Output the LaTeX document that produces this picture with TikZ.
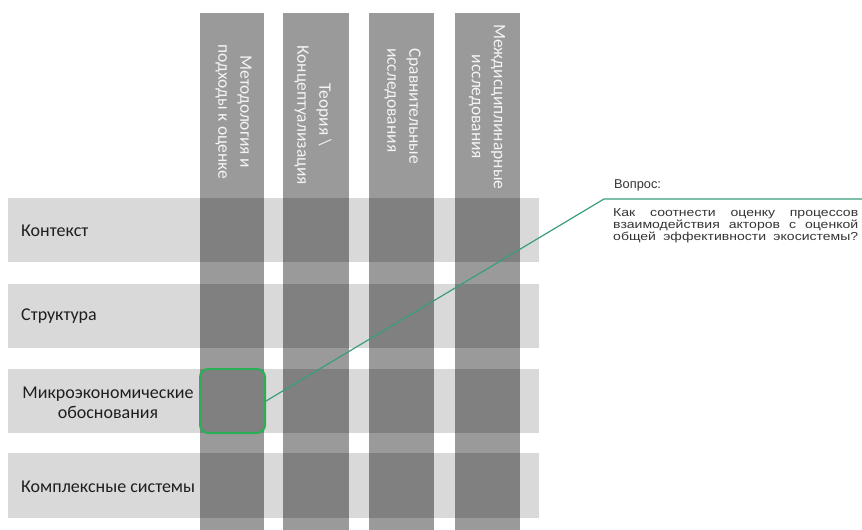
\documentclass[tikz,border=0pt]{standalone}
\usepackage{fontspec}
\setmainfont{Carlito}
\newfontfamily\qfont{Liberation Sans}
\newfontfamily\qwide[FakeStretch=1.22]{Liberation Sans}
\definecolor{rowgray}{HTML}{D9D9D9}
\definecolor{colgray}{HTML}{9A9A9A}
\definecolor{cellgray}{HTML}{808080}
\definecolor{lineg}{HTML}{3A9E7C}
\definecolor{boxg}{HTML}{2BAE55}
\definecolor{hdrtext}{HTML}{F4F4F4}
\definecolor{labtext}{HTML}{1E1E1E}
\begin{document}
\begin{tikzpicture}[x=1pt,y=-1pt,
  rowbar/.style={fill=rowgray,draw=none},
  colbar/.style={fill=colgray,draw=none},
  cellbar/.style={fill=cellgray,draw=none},
  hdr/.style={rotate=-90,align=center,inner sep=0pt,text=hdrtext,font=\fontsize{17.5}{22}\selectfont},
  rowlab/.style={inner sep=0pt,text=labtext,font=\fontsize{18}{20}\selectfont},
  qtitlestyle/.style={inner sep=0pt,text=labtext!90,font=\qfont\fontsize{12.8}{14}\selectfont},
  qbodystyle/.style={inner sep=0pt,text=labtext!90,font=\qwide\fontsize{11.5}{12}\selectfont},
  focusbox/.style={draw=boxg,line width=2.2pt,rounded corners=8pt,minimum width=64.8pt,minimum height=63.8pt,inner sep=0pt},
  link/.style={draw=lineg,line width=1.2pt}]
\useasboundingbox (0,0) rectangle (862,530);
\fill[white] (0,0) rectangle (862,530);
% rows
\foreach \ya/\yb in {198/262,284/348,369/433,453/518}
  \path[rowbar] (8,\ya) rectangle (539,\yb);
% columns
\foreach \xa/\xb in {200/264,283/349,369/434,455/520}
  \path[colbar] (\xa,13) rectangle (\xb,530);
% intersections
\foreach \xa/\xb in {200/264,283/349,369/434,455/520}
  \foreach \ya/\yb in {198/262,284/348,369/433,453/518}
    \path[cellbar] (\xa,\ya) rectangle (\xb,\yb);
% column headers
\node[hdr] (h1) at (233.5,112) {Методология и\\подходы к оценке};
\node[hdr] (h2) at (313,115) {Теория \textbackslash\\Концептуализация};
\node[hdr,align=left,anchor=west] (h3) at (402.5,48) {Сравнительные\\исследования};
\node[hdr] (h4) at (487,107) {Междисциплинарные\\исследования};
% row labels
\node[rowlab,anchor=west] (r1) at (21,231) {Контекст};
\node[rowlab,anchor=west] (r2) at (21,316) {Структура};
\node[rowlab,align=center] (r3) at (108,403) {Микроэкономические\\обоснования};
\node[rowlab,anchor=west] (r4) at (21,487) {Комплексные системы};
% question
\node[qtitlestyle,anchor=west] (qtitle) at (614,185.5) {Вопрос:};
\node[qbodystyle,anchor=base west] (qbody) at (613,216.5) {\begin{minipage}[t]{245pt}\parfillskip=0pt\relax
Как соотнести оценку процессов\linebreak взаимодействия акторов с оценкой\linebreak общей эффективности экосистемы?\par\end{minipage}};
% focus box and connector
\node[focusbox] (box) at (232.5,401) {};
\coordinate (bend) at (604,199);
\coordinate (qend) at (862,199);
\draw[link] (box.east) -- (bend) -- (qend);
\end{tikzpicture}
\end{document}
